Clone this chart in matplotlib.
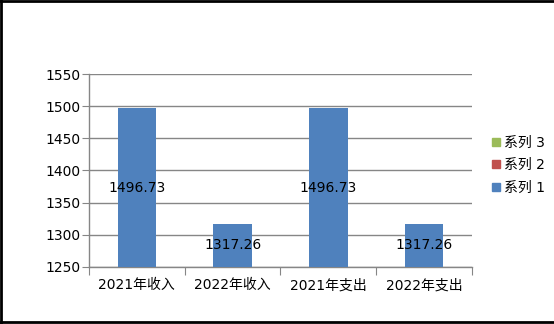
import matplotlib
matplotlib.use("Agg")
import matplotlib.pyplot as plt
from matplotlib.lines import Line2D

plt.rcParams['font.family'] = ['DejaVu Sans', 'Noto Sans CJK SC']

categories = ["2021年收入", "2022年收入", "2021年支出", "2022年支出"]
series1 = [1496.73, 1317.26, 1496.73, 1317.26]
series_names = ["系列 1", "系列 2", "系列 3"]
series_colors = ["#4F81BD", "#C0504D", "#9BBB59"]
yticks = [1250, 1300, 1350, 1400, 1450, 1500, 1550]

fig = plt.figure(figsize=(5.54, 3.24), dpi=100)
ax = fig.add_axes([0.1606, 0.176, 0.6914, 0.5956])

base = yticks[0]
x = list(range(len(categories)))
heights = [v - base for v in series1]
ax.bar(x, heights, bottom=base, width=0.4, color=series_colors[0], zorder=3)
for xi, v in zip(x, series1):
    ax.text(xi, (base + v) / 2, f"{v:.2f}", ha='center', va='center', fontsize=10, color='black', zorder=4)

ax.set_ylim(yticks[0], yticks[-1])
ax.set_xlim(-0.5, len(categories) - 0.5)
ax.set_yticks(yticks)
ax.set_yticklabels([str(t) for t in yticks], fontsize=10)
ax.yaxis.grid(True, color='#868686', linewidth=1, zorder=0)
ax.set_xticks([i - 0.5 for i in range(len(categories) + 1)])
ax.set_xticklabels([])
ax.set_xticks(x, minor=True)
ax.set_xticklabels(categories, minor=True, fontsize=10)
ax.tick_params(axis='x', which='major', length=6, color='#868686')
ax.tick_params(axis='x', which='minor', length=0, pad=8)
ax.tick_params(axis='y', length=5, color='#868686', pad=1)
for s in ['top', 'right']:
    ax.spines[s].set_visible(False)
for s in ['left', 'bottom']:
    ax.spines[s].set_color('#868686')
    ax.spines[s].set_linewidth(1)

handles = [Line2D([], [], marker='s', linestyle='none', markersize=6,
                  markerfacecolor=c, markeredgecolor=c) for c in series_colors[::-1]]
fig.legend(handles, series_names[::-1], loc='center left', bbox_to_anchor=(0.862, 0.49),
           frameon=False, fontsize=10, handlelength=0.8, handletextpad=0.2, labelspacing=0.6)

# outer border lines (top, left, bottom)
fig.add_artist(Line2D([0, 1], [0.998, 0.998], transform=fig.transFigure, color='black', linewidth=2))
fig.add_artist(Line2D([0.001, 0.001], [0, 1], transform=fig.transFigure, color='black', linewidth=2))
fig.add_artist(Line2D([0, 1], [0.006, 0.006], transform=fig.transFigure, color='black', linewidth=2))

fig.savefig("out.png", dpi=100)
